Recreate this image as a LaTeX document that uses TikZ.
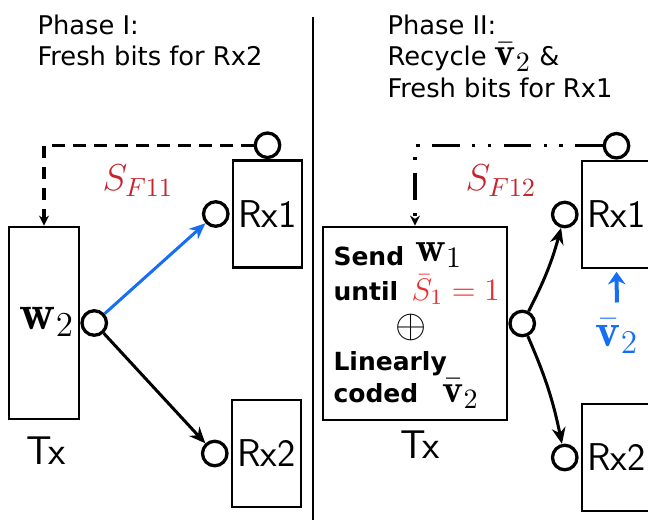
\RequirePackage{fix-cm}
\documentclass[tikz,border=0pt]{standalone}
\usepackage{fontspec}
\newfontfamily\phasefont{DejaVu Sans}
\usetikzlibrary{arrows.meta}
\definecolor{sfred}{RGB}{196,36,44}
\definecolor{condred}{RGB}{240,44,44}
\definecolor{linkblue}{RGB}{22,110,245}
\newcommand{\mfs}[2]{{\fontsize{#1}{#1}\selectfont$#2$}}
\begin{document}
\begin{tikzpicture}[x=0.4pt, y=-0.4pt,
        rxbox/.style={draw, line width=1.1pt, inner sep=0pt, minimum width=27.6pt, minimum height=42.8pt,
            font=\sffamily\fontsize{15.5}{16}\selectfont},
        txbox/.style={draw, line width=1.1pt, inner sep=0pt},
        port/.style={circle, draw, line width=1.3pt, fill=white, inner sep=0pt, minimum size=9.8pt},
        link/.style={-{Stealth[length=6.5pt, width=5.5pt]}, line width=1.2pt},
        heading/.style={anchor=north west, align=left, inner sep=0pt, font=\phasefont\fontsize{10.3}{12.6}\selectfont},
        inner/.style={anchor=base west, inner sep=0pt, font=\phasefont\bfseries\fontsize{10}{12}\selectfont},
        sflabel/.style={text=sfred, font=\fontsize{15}{16}\selectfont}
    ]
        \useasboundingbox (0,0) rectangle (648,520);

        % Headings and the line between the two phases
        \node[heading] (head1) at (37,14) {Phase I:\\Fresh bits for Rx2};
        \node[heading] (head2) at (387,14) {Phase II:\\Recycle \mfs{16}{\bar{\mathbf{v}}_2} \&\\Fresh bits for Rx1};
        \draw[line width=0.8pt] (313,17) -- (313,520);

        % Phase I: transmitter and receivers
        \node[txbox, minimum width=28pt, minimum height=76.8pt] (tx1) at (44,323) {};
        \node[rxbox] (rx11) at (267.5,214) {Rx1};
        \node[rxbox] (rx12) at (266.5,453.5) {Rx2};
        \node[font=\fontsize{20}{20}\selectfont] (w2) at (47,322) {$\mathbf{w}_2$};
        \node[font=\sffamily\fontsize{16}{17}\selectfont] (tx1lbl) at (46,451) {Tx};

        \node[port, anchor=west] (out1) at (tx1.east) {};
        \node[port, anchor=east, xshift=-0.8pt] (in11) at (rx11.west) {};
        \node[port, anchor=east, xshift=-0.8pt] (in12) at (rx12.west) {};
        \node[port, anchor=south] (fb1) at (rx11.north) {};

        \draw[link, draw=linkblue] (out1) -- (in11);
        \draw[link] (out1) -- (in12);
        \draw[line width=1.3pt, dash pattern=on 5pt off 3.4pt, -{Stealth[length=4pt, width=4pt]}] (fb1.west) -| (tx1.north);
        \node[sflabel] (sf1) at (138,181) {$S_{F11}$};

        % Phase II: transmitter and receivers
        \node[txbox, minimum width=73.6pt, minimum height=77.2pt] (tx2) at (415,323.5) {};
        \node[rxbox] (rx21) at (616.5,214.5) {Rx1};
        \node[rxbox] (rx22) at (616.5,457.5) {Rx2};
        \node[font=\sffamily\fontsize{16}{17}\selectfont] (tx2lbl) at (420,445) {Tx};

        % Contents of the Phase II transmitter
        \node[inner] (send) at (333,265) {Send};
        \node[inner] (w1) at (415,261) {\mfs{17}{\mathbf{w}_1}};
        \node[inner] (until) at (333,300) {until};
        \node[inner, text=condred] (cond) at (411,300) {\mfs{12.5}{\bar{S}_1=1}};
        \node[inner sep=0pt, font=\fontsize{16}{16}\selectfont] (plus) at (411,327) {$\oplus$};
        \node[inner] (linear) at (333,370) {Linearly};
        \node[inner] (coded) at (333,402) {coded};
        \node[inner] (v2in) at (442,402) {\mfs{16}{\bar{\mathbf{v}}_2}};

        \node[port, anchor=west] (out2) at (tx2.east) {};
        \node[port, anchor=east, xshift=-0.8pt] (in21) at (rx21.west) {};
        \node[port, anchor=east, xshift=-0.8pt] (in22) at (rx22.west) {};
        \node[port, anchor=south] (fb2) at (rx21.north) {};

        \draw[link] (out2) to[bend right=6] (in21);
        \draw[link] (out2) to[bend left=6] (in22);
        \draw[line width=1.3pt, dash pattern=on 11pt off 5pt on 1.3pt off 5pt on 1.3pt off 5pt,
            -{Stealth[length=4pt, width=4pt]}] (fb2.west) -| (tx2.north);
        \node[sflabel] (sf2) at (501,181) {$S_{F12}$};

        % Recycled bits known at Rx1
        \node[text=linkblue, font=\fontsize{19}{19}\selectfont] (v2) at (617,336) {$\bar{\mathbf{v}}_2$};
        \draw[draw=linkblue, line width=1.6pt, -{Stealth[length=5pt, width=7pt]}, shorten <=3pt, shorten >=1pt] (v2.north) -- (rx21.south);
    \end{tikzpicture}
\end{document}
